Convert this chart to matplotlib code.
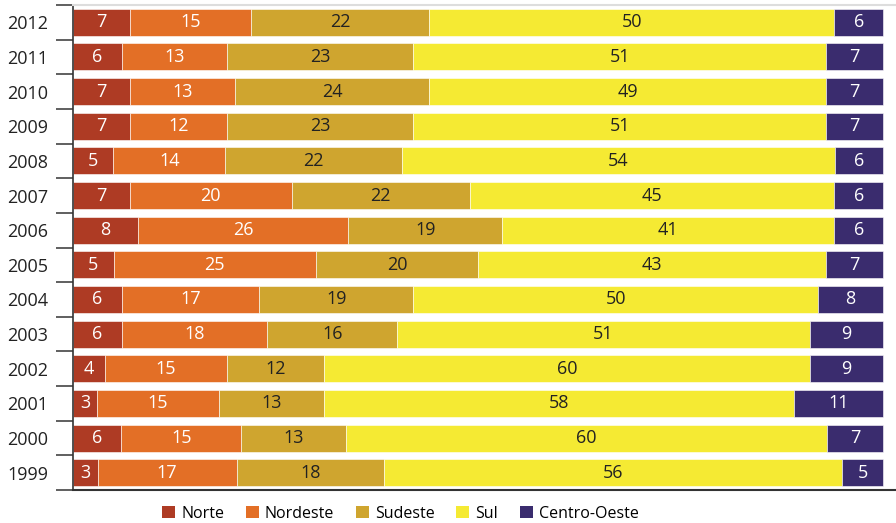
import matplotlib.pyplot as plt
import numpy as np
from matplotlib.patches import Patch

# dados (participacao % por regiao)
anos = ['2012', '2011', '2010', '2009', '2008', '2007', '2006',
        '2005', '2004', '2003', '2002', '2001', '2000', '1999']
norte = [7, 6, 7, 7, 5, 7, 8, 5, 6, 6, 4, 3, 6, 3]
nordeste = [15, 13, 13, 12, 14, 20, 26, 25, 17, 18, 15, 15, 15, 17]
sudeste = [22, 23, 24, 23, 22, 22, 19, 20, 19, 16, 12, 13, 13, 18]
sul = [50, 51, 49, 51, 54, 45, 41, 43, 50, 51, 60, 58, 60, 56]
centro_oeste = [6, 7, 7, 7, 6, 6, 6, 7, 8, 9, 9, 11, 7, 5]

regioes = ['Norte', 'Nordeste', 'Sudeste', 'Sul', 'Centro-Oeste']
series = [norte, nordeste, sudeste, sul, centro_oeste]
cores = ['#AE3B24', '#E36F26', '#CFA52F', '#F5EA33', '#3A2C6E']
cor_txt = ['white', 'white', '#222222', '#222222', 'white']

plt.rcParams['font.family'] = ['Open Sans', 'DejaVu Sans']

fig = plt.figure(figsize=(8.96, 5.23), dpi=100)
ax = fig.add_axes([73/896, 33/523, 823/896, 485/523])

dados = np.array(series, dtype=float)
total = dados.sum(axis=0)
dados = dados / total * 100  # cada barra soma 100%

y = np.arange(len(anos))
esq = np.zeros(len(anos))
for i in range(len(regioes)):
    ax.barh(y, dados[i], left=esq, height=0.78, color=cores[i],
            edgecolor='white', linewidth=0.4)
    for j in range(len(anos)):
        ax.text(esq[j] + dados[i][j] / 2, y[j], str(series[i][j]),
                ha='center', va='center', fontsize=13, color=cor_txt[i])
    esq = esq + dados[i]

ax.set_xlim(0, 100 * 823 / 810)
ax.set_ylim(len(anos) - 0.5, -0.5)
ax.set_xticks([])
ax.set_yticks(y)
ax.set_yticklabels(anos, fontsize=13, color='#222222')
ax.tick_params(axis='y', which='major', length=0, pad=18)
ax.set_yticks(np.arange(len(anos) + 1) - 0.5, minor=True)
ax.tick_params(axis='y', which='minor', length=12, width=1.2,
               color='#444444', direction='out')

ax.spines['right'].set_visible(False)
ax.spines['top'].set_color('#DDDDDD')
ax.spines['top'].set_linewidth(1.5)
ax.spines['left'].set_color('#333333')
ax.spines['left'].set_linewidth(1.2)
ax.spines['bottom'].set_color('#333333')
ax.spines['bottom'].set_linewidth(1.5)

handles = [Patch(facecolor=c, label=r) for c, r in zip(cores, regioes)]
fig.legend(handles=handles, loc='center', bbox_to_anchor=(0.447, 0.018),
           ncol=5, frameon=False, fontsize=11.5, handlelength=0.8,
           handleheight=0.8, handletextpad=0.4, columnspacing=1.35,
           borderpad=0.2)

fig.savefig('out.png', dpi=100)
